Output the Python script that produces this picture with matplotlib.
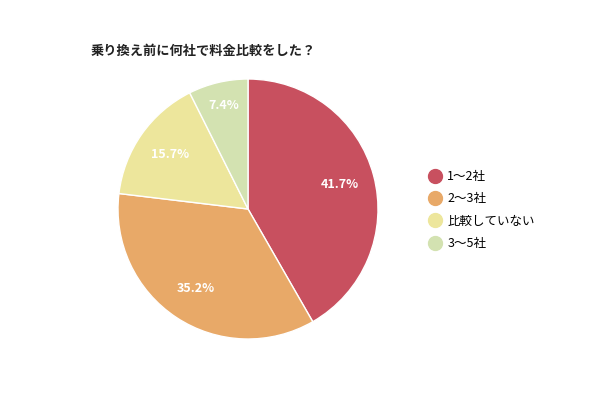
import numpy as np
import matplotlib.pyplot as plt
from matplotlib.lines import Line2D

plt.rcParams['font.family'] = ['Noto Sans CJK JP', 'DejaVu Sans']

title = "乗り換え前に何社で料金比較をした？"
labels = ["1〜2社", "2〜3社", "比較していない", "3〜5社"]
values = [41.7, 35.2, 15.7, 7.4]
colors = ["#c8505f", "#e8a968", "#ede69c", "#d3e2b1"]
# how far out each percentage label sits (fraction of radius)
label_r = [0.73, 0.73, 0.73, 0.82]

fig = plt.figure(figsize=(6, 4), dpi=100)
ax = fig.add_axes([118 / 600, 61 / 400, 260 / 600, 260 / 400])

wedges, texts = ax.pie(values, colors=colors, startangle=90, counterclock=False,
                       wedgeprops=dict(edgecolor="white", linewidth=1))
for w, v, r in zip(wedges, values, label_r):
    ang = np.deg2rad((w.theta1 + w.theta2) / 2)
    ax.text(r * np.cos(ang), r * np.sin(ang), f"{v:.1f}%", color="white",
            fontweight="bold", fontsize=9, ha="center", va="center")
ax.set_xlim(-1, 1)
ax.set_ylim(-1, 1)
ax.set_aspect("equal")

fig.text(91 / 600, 1 - 51 / 400, title, fontsize=9.5, fontweight="bold",
         ha="left", va="center", color="#222222")

handles = [Line2D([], [], marker="o", linestyle="", markersize=10,
                  markerfacecolor=c, markeredgecolor=c) for c in colors]
fig.legend(handles, labels, loc="upper left", bbox_to_anchor=(421 / 600, 1 - 165 / 400),
           frameon=False, fontsize=9, handletextpad=0.2, labelspacing=0.75,
           handlelength=1.5, borderaxespad=0)

fig.savefig("out.png", dpi=100)
